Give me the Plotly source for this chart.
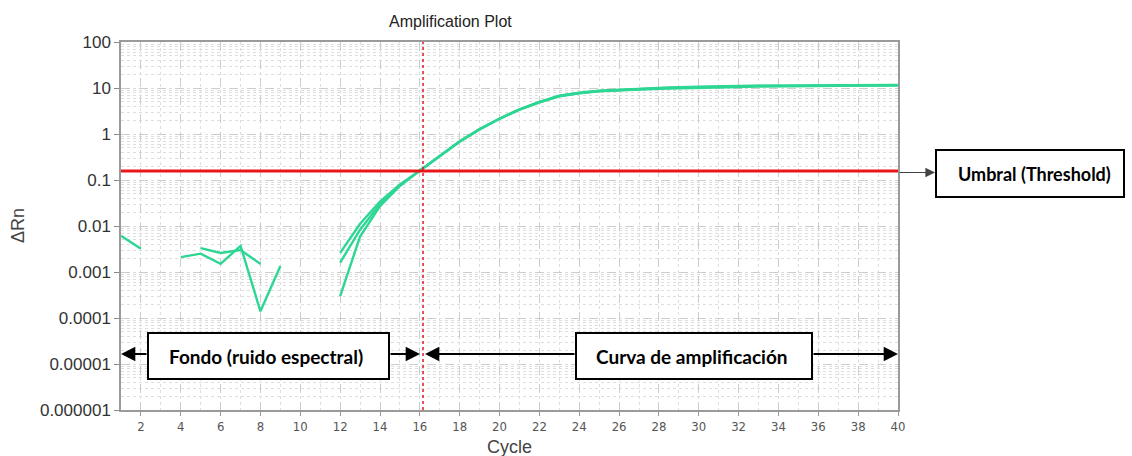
import plotly.graph_objects as go

# ---------------- data ----------------
noise_a_cycles = [1, 2]
noise_a_values = [0.0061, 0.0032]

noise_b_cycles = [4, 5, 6, 7, 8, 9]
noise_b_values = [0.0021, 0.0025, 0.0015, 0.0037, 0.00014, 0.00135]

noise_c_cycles = [5, 6, 7, 8]
noise_c_values = [0.0033, 0.0026, 0.0030, 0.0015]

amp_cycles = list(range(12, 41))
amp_curve_1 = [0.0026, 0.0112, 0.034, 0.080, 0.158, 0.33, 0.68, 1.26, 2.14, 3.4, 4.9, 6.7,
               7.8, 8.6, 9.1, 9.5, 9.9, 10.3, 10.6, 10.8, 11.0, 11.1, 11.2, 11.3, 11.4,
               11.4, 11.5, 11.5, 11.5]
amp_curve_2 = [0.0016, 0.0083, 0.030, 0.077, 0.160, 0.33, 0.69, 1.27, 2.15, 3.4, 4.9, 6.6,
               7.7, 8.5, 9.0, 9.3, 9.6, 9.9, 10.1, 10.3, 10.5, 10.7, 10.9, 11.0, 11.1,
               11.2, 11.3, 11.3, 11.4]
amp_curve_3 = [0.00030, 0.0059, 0.027, 0.074, 0.162, 0.34, 0.70, 1.28, 2.17, 3.45, 5.0, 6.8,
               7.9, 8.7, 9.2, 9.6, 10.0, 10.4, 10.7, 10.9, 11.1, 11.2, 11.3, 11.4, 11.5,
               11.5, 11.6, 11.6, 11.6]

threshold_value = 0.156
ct_value = 16.16
x_range = [1, 40]

x_tick_vals = list(range(2, 41, 2))
y_tick_vals = [1e-6, 1e-5, 1e-4, 1e-3, 1e-2, 1e-1, 1, 10, 100]
y_tick_text = ["0.000001", "0.00001", "0.0001", "0.001", "0.01", "0.1", "1", "10", "100"]

title_text = "Amplification Plot"
x_title = "Cycle"
y_title = "ΔRn"
label_background = "Fondo (ruido espectral)"
label_curve = "Curva de amplificación"
label_threshold = "Umbral (Threshold)"

# ---------------- styling ----------------
GREEN = "rgb(46,214,148)"
RED = "rgb(232,22,26)"
W, H = 1132, 456
L, R, T, B = 121, 898, 42, 410   # plot-area pixel box
PW, PH = R - L, B - T


def px(xp):
    return (xp - L) / PW


def py(yp):
    return (B - yp) / PH


fig = go.Figure()

for cx, cy in [(noise_a_cycles, noise_a_values),
               (noise_b_cycles, noise_b_values),
               (noise_c_cycles, noise_c_values),
               (amp_cycles, amp_curve_1),
               (amp_cycles, amp_curve_2),
               (amp_cycles, amp_curve_3)]:
    fig.add_trace(go.Scatter(x=cx, y=cy, mode="lines",
                             line=dict(color=GREEN, width=2.4),
                             showlegend=False, hoverinfo="skip"))

# threshold
fig.add_trace(go.Scatter(x=x_range, y=[threshold_value, threshold_value], mode="lines",
                         line=dict(color=RED, width=3), showlegend=False, hoverinfo="skip"))

# Ct dotted line
fig.add_shape(type="line", xref="x", yref="paper", x0=ct_value, x1=ct_value, y0=0, y1=1,
              line=dict(color="rgb(225,30,30)", width=1.5, dash="dot"))

grid_major = "rgb(205,205,205)"
grid_minor = "rgb(222,222,222)"

fig.update_xaxes(range=x_range, tickvals=x_tick_vals, ticks="outside", ticklen=4,
                 tickcolor="#999", showline=True, linecolor="#9a9a9a", linewidth=1.5,
                 mirror=True, showgrid=True, gridcolor=grid_major, griddash="dash",
                 gridwidth=1, zeroline=False,
                 tickfont=dict(family="Liberation Sans Narrow, DejaVu Sans Condensed, sans-serif",
                               size=13, color="#555"),
                 minor=dict(dtick=1, showgrid=True, gridcolor=grid_minor, griddash="dot"))

fig.update_yaxes(type="log", range=[-6, 2], tickvals=y_tick_vals, ticktext=y_tick_text,
                 ticks="outside", ticklen=5, tickcolor="#888", showline=True,
                 linecolor="#9a9a9a", linewidth=1.5, mirror=True,
                 showgrid=True, gridcolor=grid_major, griddash="dash", zeroline=False,
                 tickfont=dict(family="Liberation Sans, Arial, sans-serif", size=17, color="#333"),
                 minor=dict(dtick="D1", showgrid=True, gridcolor=grid_minor, griddash="dot"))

# boxes
box_line = dict(color="black", width=2)
for x0, x1, y0, y1 in [(148, 389, 333, 379), (576, 812, 333, 379), (936, 1124, 150, 197)]:
    fig.add_shape(type="rect", xref="paper", yref="paper",
                  x0=px(x0), x1=px(x1), y0=py(y1), y1=py(y0),
                  line=box_line, fillcolor="white", layer="above")

annotations = []
lbl_font = dict(family="Lato, sans-serif", size=19, color="black", weight="bold")
for text, cx, cy, size in [(label_background, 266, 356, 19), (label_curve, 692, 356, 19),
                           (label_threshold, 1034, 174, 18)]:
    annotations.append(dict(text=text, xref="paper", yref="paper", x=px(cx), y=py(cy),
                            showarrow=False, font=dict(lbl_font, size=size),
                            xanchor="center", yanchor="middle"))

# black arrows: (tip_px, tail_px) at y=354
arrow_y = 354
for tip, tail in [(121, 148), (420, 389), (425, 576), (898, 812)]:
    annotations.append(dict(text="", xref="paper", yref="paper", x=px(tip), y=py(arrow_y),
                            ax=tail - tip, ay=0, showarrow=True, arrowhead=2, arrowsize=1.3,
                            arrowwidth=2.2, arrowcolor="black", standoff=0, startstandoff=0))
# grey threshold arrow
annotations.append(dict(text="", xref="paper", yref="paper", x=px(935), y=py(172.5),
                        ax=898 - 935, ay=0, showarrow=True, arrowhead=2, arrowsize=1.6,
                        arrowwidth=1.2, arrowcolor="#444", standoff=0))

# titles
annotations.append(dict(text=title_text, xref="paper", yref="paper", x=px(450), y=py(22),
                        showarrow=False, xanchor="center", yanchor="middle",
                        font=dict(family="Liberation Sans, Arial, sans-serif", size=16, color="#222")))
annotations.append(dict(text=x_title, xref="paper", yref="paper", x=px(510), y=py(447),
                        showarrow=False, xanchor="center", yanchor="middle",
                        font=dict(family="Liberation Sans, Arial, sans-serif", size=18, color="#444")))
annotations.append(dict(text=y_title, xref="paper", yref="paper", x=px(18), y=py(226),
                        showarrow=False, xanchor="center", yanchor="middle", textangle=-90,
                        font=dict(family="Liberation Sans, Arial, sans-serif", size=18, color="#444")))

fig.update_layout(width=W, height=H, autosize=False,
                  margin=dict(l=L, r=W - R, t=T, b=H - B, pad=0),
                  paper_bgcolor="white", plot_bgcolor="white",
                  annotations=annotations, showlegend=False, hovermode=False)

fig.write_html("out.html")
